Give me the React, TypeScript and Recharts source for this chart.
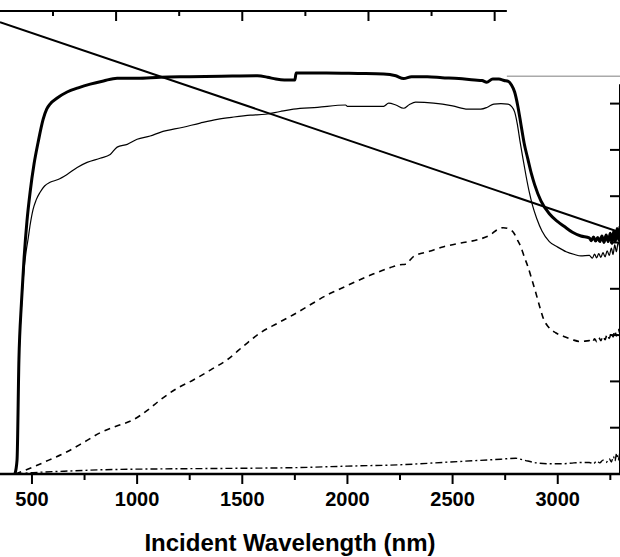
import React from 'react';
import { LineChart, Line, XAxis, YAxis, ReferenceLine } from 'recharts';

type Pt = [number, number];

// wavelength (nm), value
const thickCurve: Pt[] = [
  [419, 0], [429, 0.3], [438, 2.47], [450, 3.7], [462, 4.63], [476, 5.45], [491, 6.08], [510, 6.7],
  [529, 7.16], [553, 7.66], [570, 7.88], [586, 7.99], [620, 8.12], [667, 8.25], [720, 8.34], [777, 8.42],
  [840, 8.49], [905, 8.55], [1000, 8.55], [1110, 8.57], [1250, 8.58], [1400, 8.59], [1572, 8.6],
  [1620, 8.57], [1660, 8.53], [1700, 8.51], [1750, 8.51], [1756, 8.66], [1900, 8.66], [2050, 8.65],
  [2172, 8.64], [2230, 8.6], [2267, 8.54], [2305, 8.58], [2380, 8.58], [2450, 8.56], [2530, 8.54],
  [2605, 8.51], [2640, 8.5], [2662, 8.46], [2691, 8.53], [2720, 8.53], [2745, 8.5], [2765, 8.48],
  [2780, 8.4], [2795, 8.25], [2810, 7.95], [2825, 7.55], [2840, 7.15], [2858, 6.8], [2875, 6.48],
  [2890, 6.25], [2920, 5.9], [2960, 5.62], [3000, 5.45], [3030, 5.35], [3070, 5.22], [3110, 5.14],
  [3150, 5.1], [3160, 5.04], [3170, 5.12], [3180, 5.03], [3190, 5.11], [3200, 5.02], [3210, 5.14],
  [3220, 5.0], [3230, 5.16], [3240, 5.02], [3250, 5.2], [3258, 4.98], [3266, 5.25], [3274, 5.02],
  [3282, 5.3], [3290, 5.05], [3296, 5.35],
];

const thinCurve: Pt[] = [
  [419, 0], [429, 0.3], [438, 2.4], [450, 3.6], [462, 4.4], [472, 4.8], [481, 5.06], [492, 5.4],
  [505, 5.71], [520, 5.92], [538, 6.08], [560, 6.22], [586, 6.3], [624, 6.36], [667, 6.47], [715, 6.62],
  [762, 6.73], [824, 6.82], [872, 6.9], [905, 7.06], [953, 7.12], [1000, 7.23], [1062, 7.3], [1110, 7.38],
  [1219, 7.49], [1300, 7.58], [1381, 7.66], [1460, 7.71], [1539, 7.75], [1610, 7.77], [1680, 7.83],
  [1743, 7.88], [1858, 7.92], [1991, 7.97], [2000, 7.94], [2100, 7.94], [2172, 7.94], [2196, 8.01],
  [2230, 7.97], [2267, 7.9], [2295, 7.98], [2324, 8.03], [2410, 8.01], [2500, 7.95], [2572, 7.88],
  [2634, 7.88], [2665, 7.92], [2696, 7.99], [2730, 8.0], [2762, 7.99], [2780, 7.94], [2795, 7.82],
  [2808, 7.55], [2820, 7.2], [2835, 6.8], [2850, 6.42], [2865, 6.08], [2880, 5.8], [2900, 5.52],
  [2925, 5.25], [2960, 5.02], [3000, 4.9], [3040, 4.8], [3080, 4.74], [3110, 4.71], [3150, 4.72],
  [3165, 4.66], [3175, 4.75], [3185, 4.67], [3195, 4.76], [3205, 4.68], [3215, 4.78], [3225, 4.69],
  [3235, 4.82], [3245, 4.72], [3255, 4.88], [3263, 4.74], [3271, 4.95], [3279, 4.8], [3287, 5.0],
  [3296, 4.85],
];

const dashedCurve: Pt[] = [
  [422, 0], [450, 0.05], [505, 0.15], [580, 0.3], [667, 0.48], [745, 0.68], [824, 0.89], [900, 1.03],
  [981, 1.17], [1050, 1.38], [1110, 1.6], [1190, 1.85], [1267, 2.03], [1350, 2.25], [1429, 2.47],
  [1510, 2.78], [1586, 3.05], [1665, 3.25], [1743, 3.44], [1825, 3.66], [1905, 3.87], [1985, 4.04],
  [2062, 4.2], [2140, 4.35], [2219, 4.48], [2250, 4.52], [2275, 4.53], [2315, 4.7], [2390, 4.81],
  [2458, 4.91], [2540, 4.99], [2619, 5.06], [2681, 5.17], [2710, 5.27], [2740, 5.32], [2770, 5.29],
  [2792, 5.2], [2810, 5.04], [2825, 4.9], [2840, 4.7], [2858, 4.48], [2877, 4.2], [2896, 3.91],
  [2915, 3.6], [2934, 3.33], [2955, 3.18], [2990, 3.05], [3029, 2.97], [3070, 2.9], [3110, 2.86],
  [3150, 2.88], [3165, 2.84], [3175, 2.92], [3185, 2.86], [3195, 2.95], [3205, 2.88], [3215, 2.98],
  [3225, 2.9], [3235, 3.02], [3245, 2.93], [3255, 3.06], [3263, 2.96], [3271, 3.1], [3279, 2.98],
  [3287, 3.13], [3296, 3.02],
];

const dashDotCurve: Pt[] = [
  [422, 0], [505, 0.03], [650, 0.06], [824, 0.09], [1110, 0.11], [1396, 0.12], [1777, 0.14],
  [2000, 0.17], [2253, 0.2], [2491, 0.26], [2729, 0.32], [2800, 0.34], [2830, 0.31], [2858, 0.28],
  [2900, 0.24], [2967, 0.22], [3020, 0.22], [3077, 0.24], [3120, 0.25], [3150, 0.25], [3170, 0.22],
  [3185, 0.28], [3200, 0.24], [3215, 0.3], [3230, 0.25], [3245, 0.33], [3255, 0.26], [3265, 0.38],
  [3272, 0.28], [3280, 0.45], [3287, 0.3], [3296, 0.5],
];

const diagonal: Pt[] = [[348, 9.76], [3296, 5.22]];

const bottomTicks = [500, 750, 1000, 1250, 1500, 1750, 2000, 2250, 2500, 2750, 3000, 3250];
const topTicks = [600, 900, 1200, 1500, 1800, 2100, 2400, 2700];
const rightTicks = [1, 2, 3, 4, 5, 6, 7, 8];

const X_DOMAIN: [number, number] = [348, 3296];
const FONT = '"Liberation Sans", Arial, Helvetica, sans-serif';

const toPts = (arr: Pt[]) => arr.map(([nm, v]) => ({ nm, v }));

const BottomTick = (props: any) => {
  const { x, y, payload } = props;
  const major = payload.value % 500 === 0;
  return (
    <g>
      <line x1={x} y1={y} x2={x} y2={y + (major ? 10 : 6)} stroke="#000" strokeWidth={2} />
      {major && (
        <text x={x} y={y + 32} textAnchor="middle" fontSize={20} fontWeight="bold" fontFamily={FONT} fill="#000">
          {payload.value}
        </text>
      )}
    </g>
  );
};

const TopTick = (props: any) => {
  const { x, y, payload } = props;
  const long = ((payload.value - 600) / 300) % 2 === 1;
  return <line x1={x} y1={y + 1} x2={x} y2={y + 1 + (long ? 9 : 4)} stroke="#000" strokeWidth={2} />;
};

const RightTick = (props: any) => {
  const { x, y } = props;
  return <line x1={x - 10} y1={y} x2={x - 1} y2={y} stroke="#000" strokeWidth={2} />;
};

export default function App() {
  return (
    <div style={{ position: 'absolute', left: 0, top: 0, width: 620, height: 557, background: '#fff' }}>
      <LineChart width={620} height={557} margin={{ top: 11, right: 0, bottom: 0, left: 0 }}>
        <XAxis
          dataKey="nm"
          type="number"
          domain={X_DOMAIN}
          allowDataOverflow
          ticks={bottomTicks}
          interval={0}
          height={83}
          tickSize={0}
          tickMargin={0}
          tickLine={false}
          tick={<BottomTick />}
          axisLine={{ stroke: '#000', strokeWidth: 2.5 }}
          label={{
            value: 'Incident Wavelength (nm)',
            position: 'insideBottom',
            offset: 6,
            dx: -20,
            style: { fontSize: 24, fontWeight: 'bold', fontFamily: FONT, fill: '#000' },
          }}
        />
        <XAxis
          xAxisId="top"
          orientation="top"
          dataKey="nm"
          type="number"
          domain={X_DOMAIN}
          allowDataOverflow
          ticks={topTicks}
          interval={0}
          height={1}
          mirror
          tickSize={0}
          tickMargin={0}
          tickLine={false}
          tick={<TopTick />}
          axisLine={false}
        />
        <YAxis
          orientation="right"
          type="number"
          domain={[0, 10]}
          ticks={rightTicks}
          interval={0}
          width={1}
          mirror
          tickSize={0}
          tickMargin={0}
          tickLine={false}
          tick={<RightTick />}
          axisLine={false}
        />
        <ReferenceLine
          segment={[{ x: 348, y: 10 }, { x: 2758, y: 10 }]}
          stroke="#000"
          strokeWidth={2}
          ifOverflow="visible"
        />
        <ReferenceLine
          segment={[{ x: 2758, y: 8.59 }, { x: 3301, y: 8.59 }]}
          stroke="#aaa"
          strokeWidth={1.5}
          ifOverflow="visible"
        />
        <ReferenceLine
          segment={[{ x: 3296, y: 0 }, { x: 3296, y: 8.42 }]}
          stroke="#000"
          strokeWidth={2}
          ifOverflow="visible"
        />
        <Line data={toPts(dashDotCurve)} dataKey="v" type="monotone" stroke="#000" strokeWidth={1.4}
          strokeDasharray="7 3 2 3" dot={false} isAnimationActive={false} />
        <Line data={toPts(dashedCurve)} dataKey="v" type="monotone" stroke="#000" strokeWidth={1.6}
          strokeDasharray="6 5" dot={false} isAnimationActive={false} />
        <Line data={toPts(thinCurve)} dataKey="v" type="monotone" stroke="#000" strokeWidth={1.2}
          dot={false} isAnimationActive={false} />
        <Line data={toPts(thickCurve)} dataKey="v" type="monotone" stroke="#000" strokeWidth={3}
          dot={false} isAnimationActive={false} />
        <Line data={toPts(diagonal)} dataKey="v" type="linear" stroke="#000" strokeWidth={2}
          dot={false} isAnimationActive={false} />
      </LineChart>
    </div>
  );
}
